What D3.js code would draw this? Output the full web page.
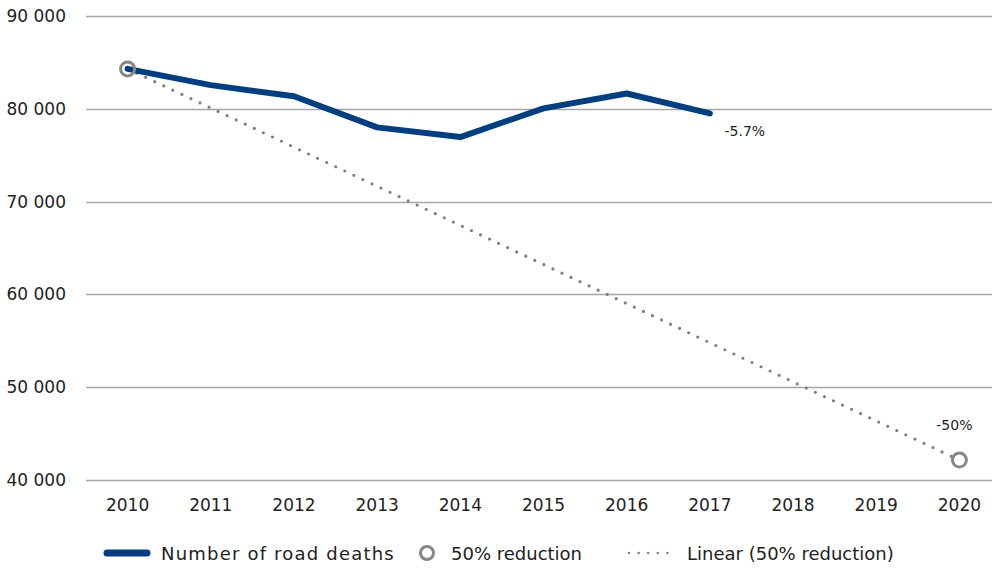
<!DOCTYPE html>
<html>
<head>
<meta charset="utf-8">
<script src="https://cdn.jsdelivr.net/npm/d3@7"></script>
<style>
  body { margin: 0; background: #fff; }
  text { font-family: "DejaVu Sans", Verdana, sans-serif; fill: #222; }
</style>
</head>
<body>
<script>
var svgWidth = 992;
var svgHeight = 569;

// data
var years = ["2010", "2011", "2012", "2013", "2014", "2015", "2016", "2017", "2018", "2019", "2020"];
var deathYears = ["2010", "2011", "2012", "2013", "2014", "2015", "2016", "2017"];
var deaths = [84300, 82550, 81350, 78000, 76950, 80050, 81650, 79500];
var targetYears = ["2010", "2020"];
var targetValues = [84300, 42150];
var yTicks = [40000, 50000, 60000, 70000, 80000, 90000];
var legendLabels = ["Number of road deaths", "50% reduction", "Linear (50% reduction)"];

var svg = d3.select("body")
  .append("svg")
  .attr("width", svgWidth)
  .attr("height", svgHeight);

// scales
var xScale = d3.scaleBand()
  .domain(years)
  .range([86, 1001]);

var yScale = d3.scaleLinear()
  .domain([40000, 90000])
  .range([480, 16]);

function xc(d) { return xScale(d) + xScale.bandwidth() / 2; }

var fmt = function(v) { return d3.format(",")(v).replace(/,/g, " "); };

// gridlines
svg.append("g")
  .selectAll("line")
  .data(yTicks)
  .join("line")
  .attr("x1", 86)
  .attr("x2", svgWidth)
  .attr("y1", function(d) { return Math.round(yScale(d)) + 0.5; })
  .attr("y2", function(d) { return Math.round(yScale(d)) + 0.5; })
  .attr("stroke", "#a6a6a6")
  .attr("stroke-width", 1.3);

// y axis labels
var yAxis = d3.axisLeft(yScale).tickValues(yTicks).tickFormat(fmt).tickSize(0).tickPadding(0);
var gY = svg.append("g")
  .attr("transform", "translate(66,0)")
  .call(yAxis);
gY.select(".domain").remove();
gY.selectAll("text")
  .style("font-size", "17px")
  .attr("fill", "#222");

// x axis labels
var xAxis = d3.axisBottom(xScale).tickSize(0).tickPadding(0);
var gX = svg.append("g")
  .attr("transform", "translate(0,499)")
  .call(xAxis);
gX.select(".domain").remove();
gX.selectAll("text")
  .style("font-size", "17px")
  .attr("fill", "#222");

// dotted linear trend
var trendLine = d3.line()
  .x(function(d, i) { return xc(targetYears[i]); })
  .y(function(d) { return yScale(d); });

svg.append("path")
  .datum(targetValues)
  .attr("d", trendLine)
  .attr("fill", "none")
  .attr("stroke", "#7f7f7f")
  .attr("stroke-width", 3.2)
  .attr("stroke-linecap", "round")
  .attr("stroke-dasharray", "0,10");

// road deaths line
var deathLine = d3.line()
  .x(function(d, i) { return xc(deathYears[i]); })
  .y(function(d) { return yScale(d); });

svg.append("path")
  .datum(deaths)
  .attr("d", deathLine)
  .attr("fill", "none")
  .attr("stroke", "#003f7f")
  .attr("stroke-width", 6)
  .attr("stroke-linecap", "round")
  .attr("stroke-linejoin", "round");

// target circles
svg.append("g")
  .selectAll("circle")
  .data(targetValues)
  .join("circle")
  .attr("cx", function(d, i) { return xc(targetYears[i]); })
  .attr("cy", function(d) { return yScale(d); })
  .attr("r", 7)
  .attr("fill", "none")
  .attr("stroke", "#878787")
  .attr("stroke-width", 3);

// data labels
var lastIdx = deaths.length - 1;
var pct = (deaths[lastIdx] / deaths[0] - 1) * 100;
svg.append("text")
  .attr("x", xc(deathYears[lastIdx]) + 35)
  .attr("y", yScale(deaths[lastIdx]) + 23)
  .attr("text-anchor", "middle")
  .style("font-size", "14px")
  .text(pct.toFixed(1) + "%");

svg.append("text")
  .attr("x", xc("2020") - 5)
  .attr("y", yScale(targetValues[1]) - 30)
  .attr("text-anchor", "middle")
  .style("font-size", "14px")
  .text("-50%");

// legend
var legend = svg.append("g").attr("transform", "translate(0,553)");

legend.append("line")
  .attr("x1", 107).attr("x2", 147)
  .attr("y1", 0).attr("y2", 0)
  .attr("stroke", "#003f7f")
  .attr("stroke-width", 7)
  .attr("stroke-linecap", "round");
legend.append("text")
  .attr("x", 161).attr("y", 6.5)
  .style("font-size", "18px")
  .style("letter-spacing", "1.2px")
  .text(legendLabels[0]);

legend.append("circle")
  .attr("cx", 427).attr("cy", 0).attr("r", 6.5)
  .attr("fill", "none")
  .attr("stroke", "#878787")
  .attr("stroke-width", 3);
legend.append("text")
  .attr("x", 451).attr("y", 6.5)
  .style("font-size", "18px")
  .text(legendLabels[1]);

legend.append("line")
  .attr("x1", 629).attr("x2", 677)
  .attr("y1", 0).attr("y2", 0)
  .attr("stroke", "#7f7f7f")
  .attr("stroke-width", 2.5)
  .attr("stroke-linecap", "round")
  .attr("stroke-dasharray", "0,9.6");
legend.append("text")
  .attr("x", 687).attr("y", 6.5)
  .style("font-size", "18px")
  .text(legendLabels[2]);
</script>
</body>
</html>
